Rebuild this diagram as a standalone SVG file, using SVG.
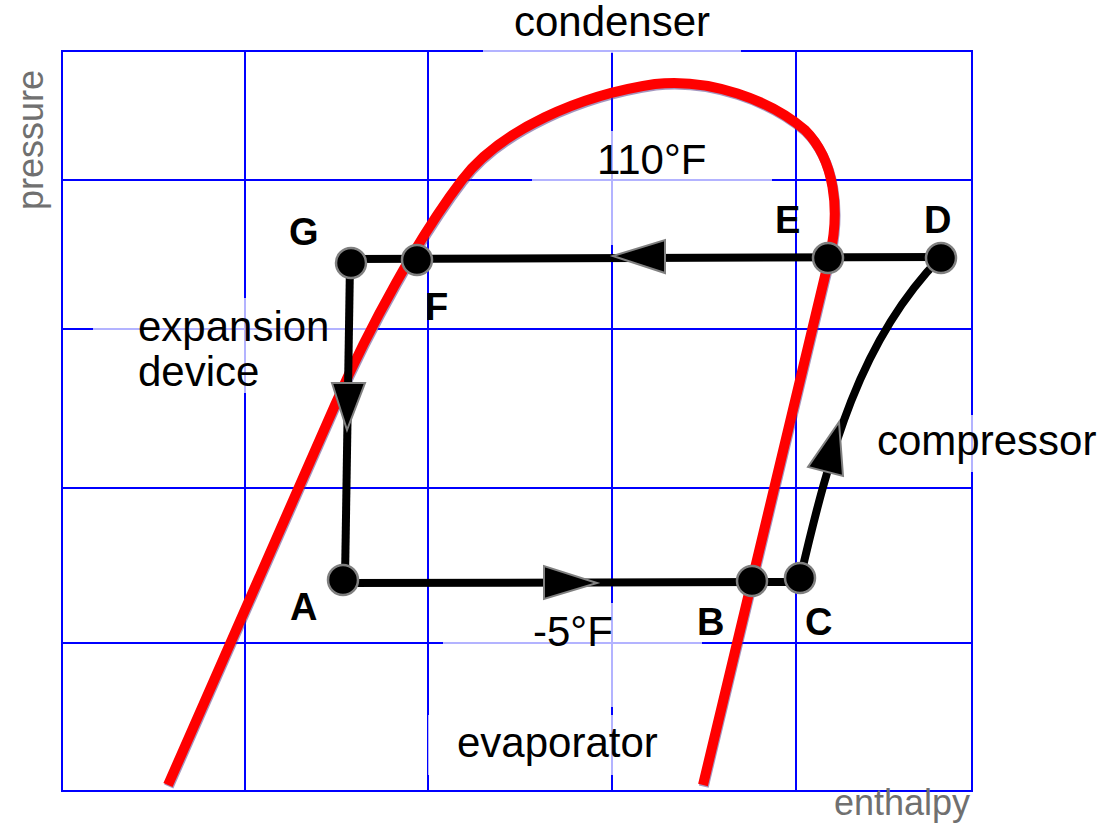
<svg xmlns="http://www.w3.org/2000/svg" width="1112" height="834" viewBox="0 0 1112 834">
<style>
.grid{stroke:#0000ff;stroke-width:2;fill:none}
.bg{fill:#ffffff;fill-opacity:0.7}
.lbl{font-family:"Liberation Sans",Arial,sans-serif;font-size:42px;fill:#000}
.axis{font-family:"Liberation Sans",Arial,sans-serif;font-size:36px;fill:#707070}
.pt{font-family:"Liberation Sans",Arial,sans-serif;font-size:38px;font-weight:bold;fill:#000}
.flow{stroke:#000;stroke-width:8;fill:none}
.arr{fill:#000;stroke:#808080;stroke-width:2;stroke-linejoin:miter}
.node{fill:#000;stroke:#808080;stroke-width:2.5}
.sat{stroke:#ff0000;stroke-width:10;fill:none;stroke-linecap:butt}
.satshadow{stroke:#5a3f8a;stroke-width:10;fill:none;opacity:0.55}
</style>
<rect x="0" y="0" width="1112" height="834" fill="#ffffff"/>
<g id="grid">
<rect class="grid" x="62" y="51" width="910" height="740"/>
<line class="grid" x1="245" y1="51" x2="245" y2="791"/>
<line class="grid" x1="428" y1="51" x2="428" y2="791"/>
<line class="grid" x1="612" y1="51" x2="612" y2="791"/>
<line class="grid" x1="796" y1="51" x2="796" y2="791"/>
<line class="grid" x1="62" y1="180" x2="972" y2="180"/>
<line class="grid" x1="62" y1="329" x2="972" y2="329"/>
<line class="grid" x1="62" y1="488" x2="972" y2="488"/>
<line class="grid" x1="62" y1="643" x2="972" y2="643"/>
</g>
<g id="label-backgrounds">
<rect class="bg" x="483" y="2" width="258" height="51"/>
<rect class="bg" x="532" y="131" width="240" height="114"/>
<rect class="bg" x="93" y="298" width="285" height="95"/>
<rect class="bg" x="865" y="415" width="245" height="57"/>
<rect class="bg" x="443" y="603" width="259" height="104"/>
<rect class="bg" x="428" y="715" width="262" height="60"/>
</g>
<g id="saturation-curve">
<path class="satshadow" transform="translate(0.8,1.6)" d="M168,785 L335,405 C370,325 420,235 462,180 C500,130 580,95 655,84 C710,78 770,100 805,130 C835,160 840,210 830,255 L703,785"/>
<path class="sat" d="M168,785 L335,405 C370,325 420,235 462,180 C500,130 580,95 655,84 C710,78 770,100 805,130 C835,160 840,210 830,255 L703,785"/>
</g>
<g id="connectors">
<line class="flow" x1="351" y1="259" x2="942" y2="257"/>
<line class="flow" x1="350" y1="263" x2="345" y2="580"/>
<line class="flow" x1="343" y1="583" x2="800" y2="582"/>
<path class="flow" d="M800,579 C830,450 860,340 940,258"/>
<polygon class="arr" points="613,256 665,240 665,273"/>
<polygon class="arr" points="544,566 544,599 597,583"/>
<polygon class="arr" points="332,383 365,383 347,430"/>
<polygon class="arr" points="839,422 808,467 843,476"/>
</g>
<g id="node-G"><circle class="node" cx="351" cy="263" r="15"/><text class="pt" x="289" y="245">G</text></g>
<g id="node-F"><circle class="node" cx="417" cy="260" r="15"/><text class="pt" x="425" y="320">F</text></g>
<g id="node-E"><circle class="node" cx="828" cy="258" r="15"/><text class="pt" x="775" y="233">E</text></g>
<g id="node-D"><circle class="node" cx="941" cy="258" r="15"/><text class="pt" x="924" y="233">D</text></g>
<g id="node-A"><circle class="node" cx="343" cy="580" r="15"/><text class="pt" x="290" y="620">A</text></g>
<g id="node-B"><circle class="node" cx="752" cy="581" r="15"/><text class="pt" x="697" y="635">B</text></g>
<g id="node-C"><circle class="node" cx="800" cy="578" r="15"/><text class="pt" x="805" y="635">C</text></g>
<g id="labels">
<text class="lbl" x="612" y="36" text-anchor="middle">condenser</text>
<text class="lbl" x="597" y="174">110°F</text>
<text class="lbl" x="138" y="341">expansion</text>
<text class="lbl" x="138" y="386">device</text>
<text class="lbl" x="877" y="455">compressor</text>
<text class="lbl" x="533" y="646">-5°F</text>
<text class="lbl" x="457" y="757">evaporator</text>
<text class="axis" x="970" y="815" text-anchor="end">enthalpy</text>
<text class="axis" transform="translate(43,140) rotate(-90)" text-anchor="middle">pressure</text>
</g>
</svg>
